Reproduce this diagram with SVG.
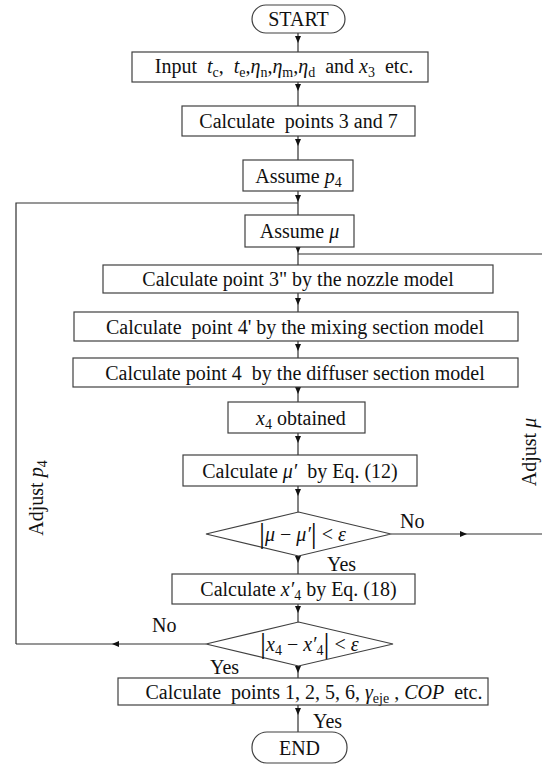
<svg xmlns="http://www.w3.org/2000/svg" width="542" height="776" viewBox="0 0 542 776">
<style>
  .box { fill: #fff; stroke: #404040; stroke-width: 1.2; }
  .ln { fill: none; stroke: #303030; stroke-width: 1.2; }
  text { font-family: "Liberation Serif", "Times New Roman", serif; font-size: 20px; fill: #111; }
  .c { text-anchor: middle; }
  .i { font-style: italic; }
  .s { font-size: 14px; }
  .bar { font-size: 30px; }
</style>
<defs>
  <marker id="ah" viewBox="0 0 7 6" refX="7" refY="3" markerWidth="7" markerHeight="6" markerUnits="userSpaceOnUse" orient="auto">
    <path d="M0,0 L7,3 L0,6 z" fill="#111"/>
  </marker>
</defs>
<rect width="542" height="776" fill="#fff"/>

<g id="connectors">
  <path class="ln" d="M298,33 V43 V52" marker-mid="url(#ah)"/>
  <path class="ln" d="M298,82 V91 V106" marker-mid="url(#ah)"/>
  <path class="ln" d="M298,136 V146 V160" marker-mid="url(#ah)"/>
  <path class="ln" d="M298,191 V202 V215" marker-mid="url(#ah)"/>
  <path class="ln" d="M298,247 V253 V265" marker-mid="url(#ah)"/>
  <path class="ln" d="M298,254 H542"/>
  <path class="ln" d="M298,293 V305 V312" marker-mid="url(#ah)"/>
  <path class="ln" d="M298,341 V351 V358" marker-mid="url(#ah)"/>
  <path class="ln" d="M298,387 V394 V402" marker-mid="url(#ah)"/>
  <path class="ln" d="M298,433 V443 V455" marker-mid="url(#ah)"/>
  <path class="ln" d="M298,486 V496 V512" marker-mid="url(#ah)"/>
  <path class="ln" d="M298,556 V563 V574" marker-mid="url(#ah)"/>
  <path class="ln" d="M298,604 V613 V622" marker-mid="url(#ah)"/>
  <path class="ln" d="M298,666 V673 V678" marker-mid="url(#ah)"/>
  <path class="ln" d="M298,705 V715 V732" marker-mid="url(#ah)"/>
  <path class="ln" d="M391,534 H467 H542" marker-mid="url(#ah)"/>
  <path class="ln" d="M206,644 H112 H16" marker-mid="url(#ah)"/>
  <path class="ln" d="M16,644 V203 H298"/>
  <text x="400" y="528">No</text>
  <text x="327" y="571">Yes</text>
  <text x="152" y="632">No</text>
  <text x="210" y="674">Yes</text>
  <text x="313" y="728">Yes</text>
  <text transform="translate(43,498) rotate(-90)" class="c">Adjust <tspan class="i">p</tspan><tspan class="s" dy="4">4</tspan></text>
  <text transform="translate(536,452) rotate(-90)" class="c">Adjust <tspan class="i">μ</tspan></text>
</g>

<g id="start">
  <rect class="box" x="252" y="5" width="93" height="28" rx="14"/>
  <text class="c" x="298.5" y="26">START</text>
</g>
<g id="input">
  <rect class="box" x="132" y="52" width="296" height="30"/>
  <text class="c" x="284" y="73" xml:space="preserve">Input  <tspan class="i">t</tspan><tspan class="s" dy="4">c</tspan><tspan dy="-4">,  </tspan><tspan class="i">t</tspan><tspan class="s" dy="4">e</tspan><tspan dy="-4">,</tspan><tspan class="i">η</tspan><tspan class="s" dy="4">n</tspan><tspan dy="-4">,</tspan><tspan class="i">η</tspan><tspan class="s" dy="4">m</tspan><tspan dy="-4">,</tspan><tspan class="i">η</tspan><tspan class="s" dy="4">d</tspan><tspan dy="-4">  and </tspan><tspan class="i">x</tspan><tspan class="s" dy="4">3</tspan><tspan dy="-4">  etc.</tspan></text>
</g>
<g id="calc37">
  <rect class="box" x="182" y="106" width="233" height="30"/>
  <text class="c" x="298.5" y="128" xml:space="preserve">Calculate  points 3 and 7</text>
</g>
<g id="assume-p4">
  <rect class="box" x="243" y="160" width="110" height="31"/>
  <text class="c" x="298.5" y="183">Assume <tspan class="i">p</tspan><tspan class="s" dy="4">4</tspan></text>
</g>
<g id="assume-mu">
  <rect class="box" x="245" y="215" width="109" height="32"/>
  <text class="c" x="299.5" y="238">Assume <tspan class="i">μ</tspan></text>
</g>
<g id="nozzle">
  <rect class="box" x="103" y="265" width="390" height="28"/>
  <text class="c" x="298" y="286">Calculate point 3" by the nozzle model</text>
</g>
<g id="mixing">
  <rect class="box" x="74" y="312" width="444" height="29"/>
  <text class="c" x="295" y="334" xml:space="preserve">Calculate  point 4' by the mixing section model</text>
</g>
<g id="diffuser">
  <rect class="box" x="73" y="358" width="445" height="29"/>
  <text class="c" x="295" y="380" xml:space="preserve">Calculate point 4  by the diffuser section model</text>
</g>
<g id="x4">
  <rect class="box" x="228" y="402" width="137" height="31"/>
  <text class="c" x="301" y="425"><tspan class="i">x</tspan><tspan class="s" dy="4">4</tspan><tspan dy="-4"> obtained</tspan></text>
</g>
<g id="mu-prime">
  <rect class="box" x="183" y="455" width="234" height="31"/>
  <text class="c" x="300" y="478" xml:space="preserve">Calculate <tspan class="i">μ′</tspan>  by Eq. (12)</text>
</g>
<g id="decision-mu">
  <polygon class="box" points="298.5,512 391,534 298.5,556 206,534"/>
  <text x="259" y="541" xml:space="preserve"><tspan class="bar" dy="2">|</tspan><tspan class="i" dy="-2">μ</tspan> − <tspan class="i">μ′</tspan><tspan class="bar" dy="2">|</tspan><tspan dy="-2"> &lt; </tspan><tspan class="i">ε</tspan></text>
</g>
<g id="x4-prime">
  <rect class="box" x="172" y="574" width="243" height="30"/>
  <text class="c" x="298.5" y="596">Calculate <tspan class="i">x′</tspan><tspan class="s" dy="4">4</tspan><tspan dy="-4"> by Eq. (18)</tspan></text>
</g>
<g id="decision-x4">
  <polygon class="box" points="298.5,622 393,644 298.5,666 206,644"/>
  <text x="260" y="651" xml:space="preserve"><tspan class="bar" dy="2">|</tspan><tspan class="i" dy="-2">x</tspan><tspan class="s" dy="4">4</tspan><tspan dy="-4"> − </tspan><tspan class="i">x′</tspan><tspan class="s" dy="4">4</tspan><tspan class="bar" dy="-2">|</tspan><tspan dy="-2"> &lt; </tspan><tspan class="i">ε</tspan></text>
</g>
<g id="final">
  <rect class="box" x="118" y="678" width="370" height="27"/>
  <text class="c" x="314" y="699" xml:space="preserve">Calculate  points 1, 2, 5, 6, <tspan class="i">γ</tspan><tspan class="s" dy="4">eje</tspan><tspan dy="-4"> , </tspan><tspan class="i">COP</tspan>  etc.</text>
</g>
<g id="end">
  <rect class="box" x="252" y="732" width="95" height="31" rx="15"/>
  <text class="c" x="299.5" y="755">END</text>
</g>
</svg>
